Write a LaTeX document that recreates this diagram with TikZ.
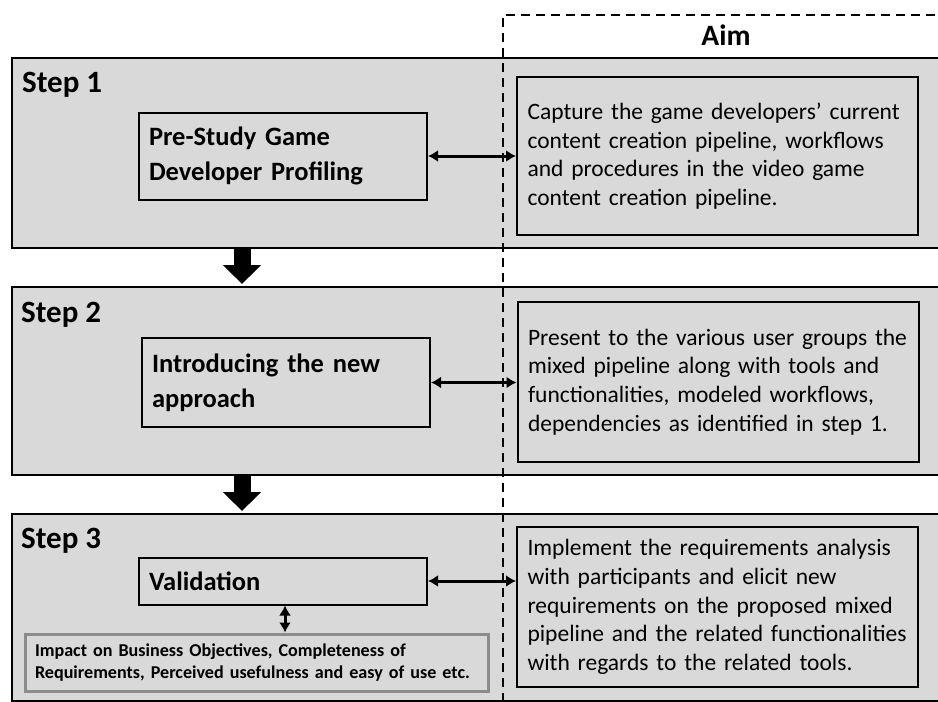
\documentclass[tikz,border=0pt]{standalone}
\usepackage{fontspec}
\setmainfont{Carlito}
\usetikzlibrary{arrows.meta}
\definecolor{bandfill}{RGB}{217,217,217}
\definecolor{edgegray}{RGB}{140,140,140}
\begin{document}
\begin{tikzpicture}[x=1pt,y=-1pt,
  band/.style={draw=black, line width=2pt, fill=bandfill, anchor=north west, inner sep=0pt, minimum width=940pt},
  steplabel/.style={anchor=base west, inner sep=0pt, font=\bfseries\fontsize{31}{37}\selectfont},
  stepbox/.style={draw=black, line width=2pt, fill=bandfill, align=left, text width=268pt, inner xsep=10pt, inner ysep=0pt, minimum width=288pt, font=\bfseries\fontsize{26.5}{35}\selectfont},
  aimbox/.style={draw=black, line width=2pt, fill=bandfill, align=left, text width=380pt, inner xsep=10.5pt, inner ysep=0pt, minimum width=401pt, minimum height=158pt, font=\fontsize{23.5}{28.6}\selectfont},
  impactbox/.style={draw=edgegray, line width=3pt, fill=bandfill, align=left, text width=443pt, inner xsep=10pt, inner ysep=0pt, minimum width=463pt, minimum height=57pt, font=\bfseries\fontsize{18.1}{22}\selectfont},
  dashline/.style={draw=black, line width=2pt, dash pattern=on 9pt off 6pt},
  biarrow/.style={line width=3pt, {Latex[length=10pt,width=12pt]}-{Latex[length=10pt,width=12pt]}},
  downarrow/.style={line width=17pt, -{Triangle[length=19pt,width=37pt]}},
]
\useasboundingbox (0,0) rectangle (938,702);
\clip (0,0) rectangle (938,702);
\fill[white] (0,0) rectangle (938,702);

% bands
\node[band, minimum height=190pt] (band1) at (11,57) {};
\node[band, minimum height=188pt] (band2) at (11,286) {};
\node[band, minimum height=187pt] (band3) at (11,513) {};

% step labels
\node[steplabel] (s1) at (22,92) {Step 1};
\node[steplabel] (s2) at (21,322) {Step 2};
\node[steplabel] (s3) at (21,548) {Step 3};

% dashed separator
\coordinate (dtop) at (503,15);
\coordinate (dbot) at (503,702);
\coordinate (dright) at (940,15);
\draw[dashline] (dbot) -- (dtop) -- (dright);

\node[anchor=center, inner sep=0pt, font=\bfseries\fontsize{29.5}{34}\selectfont] (aim) at (726,35) {Aim};

% left boxes
\node[stepbox, minimum height=87pt] (b1) at (283,156) {Pre-Study Game\\Developer Profiling};
\node[stepbox, minimum height=89pt] (b2) at (286,382.5) {Introducing the new\\approach};
\node[stepbox, minimum height=47pt] (b3) at (283,581) {Validation};
\node[impactbox] (imp) at (256.5,662.5) {Impact on Business Objectives, Completeness of\\Requirements, Perceived usefulness and easy of use etc.};

% aim boxes
\node[aimbox] (a1) at (717.5,156) {Capture the game developers’ current\\content creation pipeline, workflows\\and procedures in the video game\\content creation pipeline.};
\node[aimbox, minimum height=160pt] (a2) at (718,382) {Present to the various user groups the\\mixed pipeline along with tools and\\functionalities, modeled workflows,\\dependencies as identified in step 1.};
\node[aimbox, minimum height=160pt] (a3) at (717.5,607) {Implement the requirements analysis\\with participants and elicit new\\requirements on the proposed mixed\\pipeline and the related functionalities\\with regards to the related tools.};

% connectors
\draw[biarrow] (b1.east) -- (a1.west |- b1.east);
\draw[biarrow] (b2.east) -- (a2.west |- b2.east);
\draw[biarrow] (b3.east) -- (a3.west |- b3.east);
\draw[biarrow] (b3.south -| 285,0) -- (imp.north -| 285,0);

\draw[downarrow] (band1.south -| 242,0) -- ([yshift=2pt]band2.north -| 242,0);
\draw[downarrow] (band2.south -| 242,0) -- ([yshift=2pt]band3.north -| 242,0);
\end{tikzpicture}
\end{document}
